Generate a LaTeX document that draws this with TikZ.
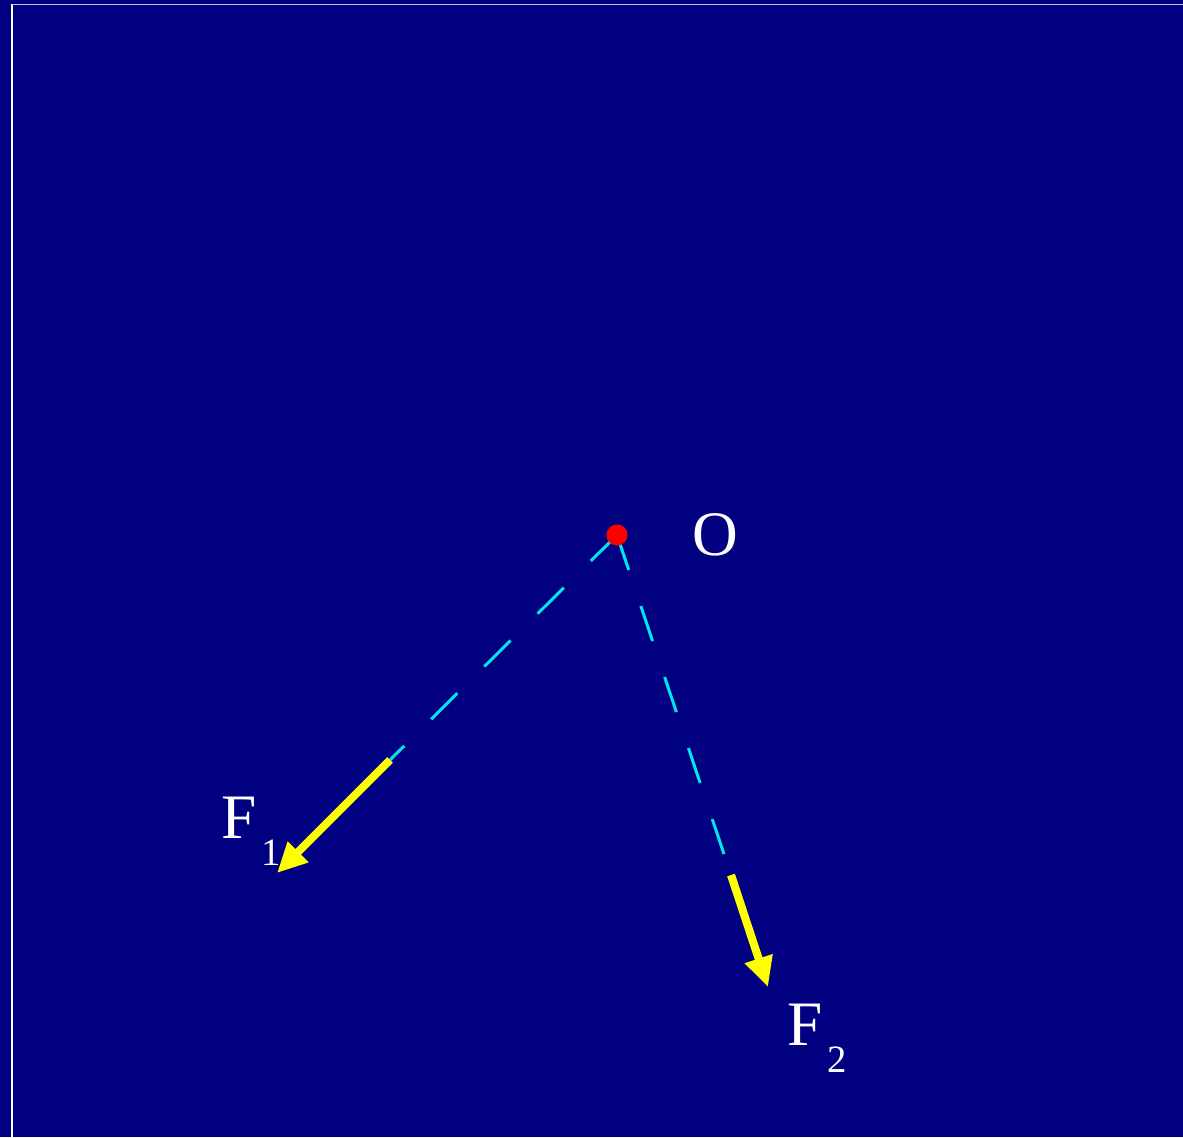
\documentclass[tikz,border=0pt]{standalone}
\usepackage{fontspec}
\setmainfont{Liberation Serif}
\usetikzlibrary{arrows.meta}
\definecolor{navybg}{RGB}{0,0,128}
\definecolor{guidecyan}{RGB}{0,230,240}
\definecolor{forceyellow}{RGB}{255,255,0}
\definecolor{pointred}{RGB}{255,0,0}

\begin{document}
\begin{tikzpicture}[x=0.01cm, y=-0.01cm,
  point/.style={circle, fill=pointred, inner sep=0pt, minimum size=6pt},
  guide/.style={guidecyan, line width=0.85pt, dash pattern=on 10.5pt off 10.8pt},
  force/.style={forceyellow, line width=2.3pt, -{Triangle[length=8.5pt, width=7.8pt]}},
  lbl/.style={text=white, font=\fontsize{18}{20}\selectfont, inner sep=0pt},
]
  \useasboundingbox (0,0) rectangle (1183,1137);

  % Background and frame
  \fill[navybg] (0,0) rectangle (1183,1137);
  \draw[white, line width=0.6pt] (12,4.5) -- (12,1137);
  \draw[white!75!navybg, line width=0.5pt] (12,4.5) -- (1183,4.5);

  % Forces
  \coordinate (o) at (617,535);
  \coordinate (f1s) at (390,760);
  \coordinate (f1e) at (277,873);
  \coordinate (f2s) at (731,875);
  \coordinate (f2e) at (768,987);

  \draw[guide] (o) -- (f1s);
  \draw[guide] (o) -- (f2s);
  \draw[force] (f1s) -- (f1e);
  \draw[force] (f2s) -- (f2e);

  % Point O
  \node[point] (O) at (o) {};
  \node[lbl, anchor=base west] (Olbl) at (692,555) {O};

  \node[lbl, anchor=base west] (F1) at (221,838)
    {F\raisebox{-7.7pt}{\fontsize{11}{13}\selectfont\hspace{1.3pt}1}};
  \node[lbl, anchor=base west] (F2) at (787,1045)
    {F\raisebox{-7.7pt}{\fontsize{11}{13}\selectfont\hspace{1.3pt}2}};
\end{tikzpicture}
\end{document}
